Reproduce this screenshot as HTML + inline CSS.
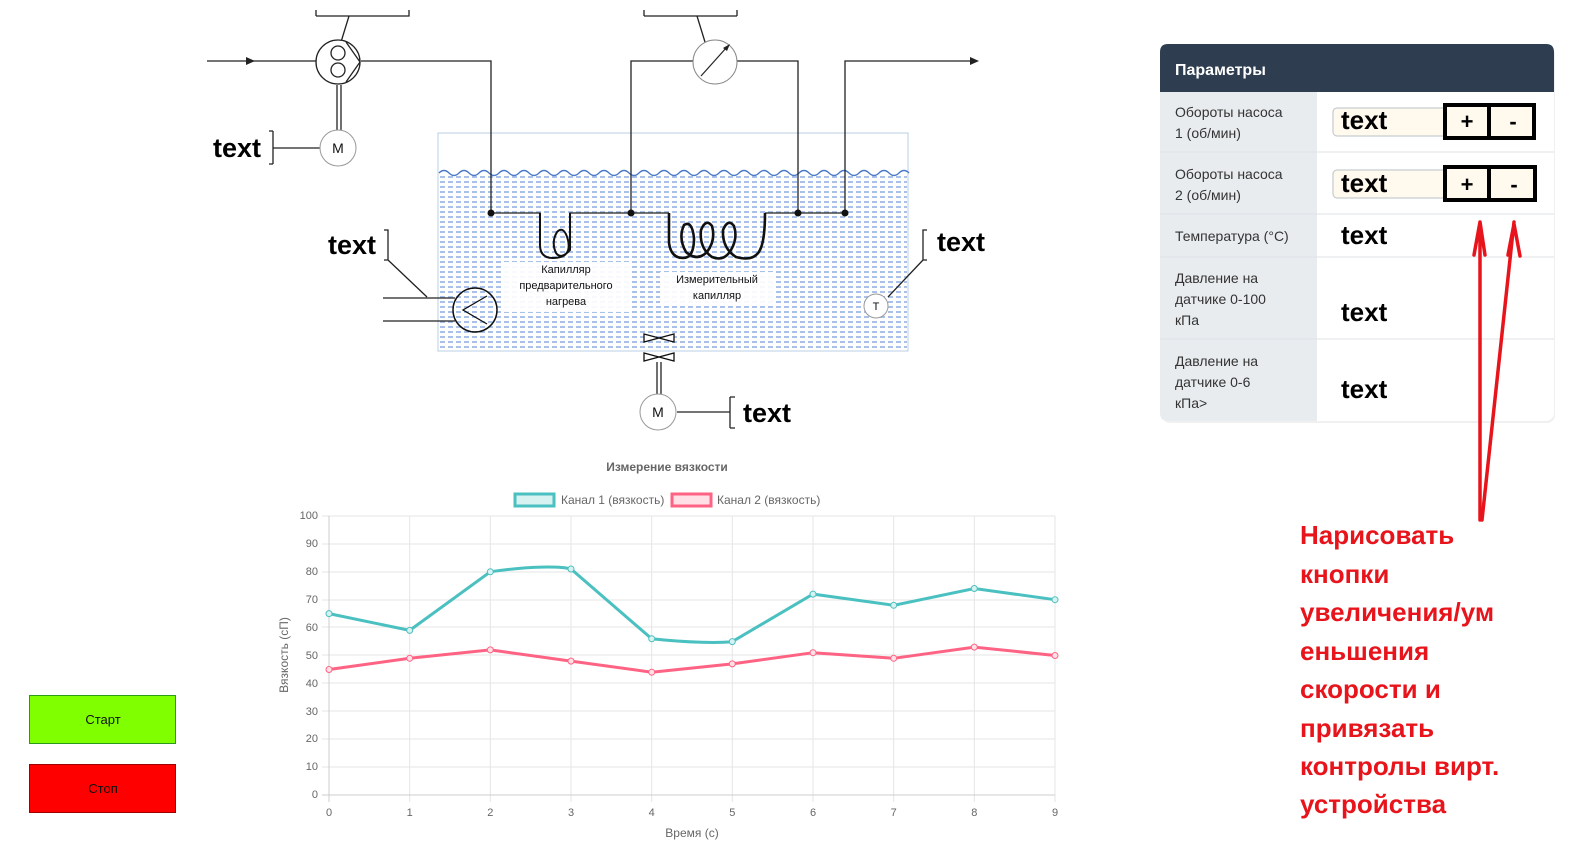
<!DOCTYPE html>
<html><head><meta charset="utf-8"><style>
body{margin:0;width:1591px;height:853px;overflow:hidden;background:#fff;font-family:"Liberation Sans","DejaVu Sans",sans-serif}
svg{position:absolute;left:0;top:0}
</style></head><body>
<svg width="1591" height="853" viewBox="0 0 1591 853" xmlns="http://www.w3.org/2000/svg" font-family="Liberation Sans, DejaVu Sans, sans-serif">
<defs>
<pattern id="w" width="8" height="5" patternUnits="userSpaceOnUse"><rect width="8" height="5" fill="#fff"/><rect x="0" y="1" width="5" height="2" fill="#a9c0e8"/></pattern>
</defs>
<!-- tank -->
<rect x="438" y="133" width="470" height="218" fill="#fff" stroke="#b9cfe6"/>
<rect x="439" y="173" width="468" height="177" fill="url(#w)"/>
<path d="M439 173 q5 -5 10 0 t10 0 t10 0 t10 0 t10 0 t10 0 t10 0 t10 0 t10 0 t10 0 t10 0 t10 0 t10 0 t10 0 t10 0 t10 0 t10 0 t10 0 t10 0 t10 0 t10 0 t10 0 t10 0 t10 0 t10 0 t10 0 t10 0 t10 0 t10 0 t10 0 t10 0 t10 0 t10 0 t10 0 t10 0 t10 0 t10 0 t10 0 t10 0 t10 0 t10 0 t10 0 t10 0 t10 0 t10 0 t10 0 t10 0" fill="none" stroke="#4a78c8" stroke-width="1.3"/>
<rect x="503" y="262" width="127" height="50" fill="#fff" opacity="0.9"/>
<rect x="660" y="272" width="113" height="34" fill="#fff" opacity="0.9"/>
<text font-size="11" text-anchor="middle" fill="#111"><tspan x="566" y="273">Капилляр</tspan><tspan x="566" y="289">предварительного</tspan><tspan x="566" y="305">нагрева</tspan><tspan x="717" y="283">Измерительный</tspan><tspan x="717" y="299">капилляр</tspan></text>
<!-- pipes -->
<g fill="none" stroke="#222" stroke-width="1.3">
<path d="M207 61 H316 M361 61 H491 V213 H540 V245 M570 245 V213 H631 V61 H693 M737 61 H798 V213 H845 V61 H975"/>
<path d="M631 213 H669"/><path d="M765 213 H798"/>
<path d="M316 16 V14 M316 16 H409 V10 M316 16 V10 M349 16 L341 42 M644 16 H737 M644 16 V10 M737 16 V10 M697 16 L705 42"/>
<path d="M337 85 V130 M341 85 V130"/>
<path d="M273 148 H320 M273 131 V164 M269 131 H273 M269 164 H273"/>
<path d="M657 362 V395 M661 362 V395"/>
<path d="M677 412 H730 M730 397 V428 M730 397 H735 M730 428 H735"/>
<path d="M383 298 H455 M383 321 H455 M384 230 H388 V260 H384 M388 260 L427 297"/>
<path d="M927 230 H923 V260 H927 M923 260 L888 297"/>
</g>
<polygon points="246,57 255,61 246,65" fill="#222"/>
<polygon points="970,57 979,61 970,65" fill="#222"/>
<g fill="#111"><circle cx="491" cy="213" r="3.5"/><circle cx="631" cy="213" r="3.5"/><circle cx="798" cy="213" r="3.5"/><circle cx="845" cy="213" r="3.5"/></g>
<!-- coils -->
<path d="M540 213 V245 Q540 258 553 258 Q572 258 568 240 Q564 225 557 232 Q551 242 556 253 Q561 260 570 250 V213" fill="none" stroke="#111" stroke-width="2"/>
<path d="M669 213 V243 Q671 258 683 258 Q694 258 694 238 Q692 220 684 225 Q678 238 686 252 Q697 262 707 252 Q716 240 712 226 Q706 218 701 230 Q699 248 712 257 Q724 262 731 250 Q738 238 734 226 Q728 218 723 230 Q722 248 736 257 Q754 262 760 250 Q765 240 765 213" fill="none" stroke="#111" stroke-width="2.6"/>
<!-- pump -->
<circle cx="338" cy="62" r="22" fill="#fff" stroke="#222" stroke-width="1.3"/>
<circle cx="338" cy="53" r="7" fill="none" stroke="#222" stroke-width="1.3"/><circle cx="338" cy="70" r="7" fill="none" stroke="#222" stroke-width="1.3"/>
<path d="M346 42 L360 62 L346 82" fill="none" stroke="#222" stroke-width="1.3"/>
<!-- gauge -->
<circle cx="715" cy="62" r="22" fill="#fff" stroke="#888" stroke-width="1"/>
<path d="M701 76 L727 47" stroke="#222" stroke-width="1.2"/><polygon points="730,44 723,48 727,51" fill="#222"/>
<!-- motors -->
<g fill="#fff" stroke="#999"><circle cx="338" cy="148" r="18"/><circle cx="658" cy="412" r="18"/><circle cx="876" cy="306" r="12"/></g>
<g font-size="14" text-anchor="middle" fill="#111"><text x="338" y="153">M</text><text x="658" y="417">M</text><text x="876" y="310" font-size="11">T</text></g>
<!-- heater -->
<circle cx="475" cy="310" r="22" fill="none" stroke="#111" stroke-width="1.5"/>
<path d="M487 296 L463 310 L487 324" fill="none" stroke="#111" stroke-width="1.3"/>
<!-- valve -->
<path d="M644 334 L674 342 L674 334 L644 342 Z M644 353 L674 361 L674 353 L644 361 Z" fill="#fff" stroke="#111" stroke-width="1.3"/>
<g font-size="27" font-weight="bold" fill="#000"><text x="213" y="157">text</text><text x="328" y="254">text</text><text x="937" y="251">text</text><text x="743" y="422">text</text></g>

<!-- chart -->
<text x="667" y="471" font-size="12" font-weight="bold" fill="#666" text-anchor="middle">Измерение вязкости</text>
<rect x="515" y="494" width="39" height="12" fill="#d8f1f1" stroke="#4bc0c0" stroke-width="3"/>
<text x="561" y="504" font-size="12" fill="#666">Канал 1 (вязкость)</text>
<rect x="672" y="494" width="39" height="12" fill="#ffe0e6" stroke="#ff6384" stroke-width="3"/>
<text x="717" y="504" font-size="12" fill="#666">Канал 2 (вязкость)</text>
<g stroke="#e5e5e5" stroke-width="1">
<path d="M322 516H1055M322 544H1055M322 572H1055M322 600H1055M322 627H1055M322 655H1055M322 683H1055M322 711H1055M322 739H1055M322 767H1055"/>
<path d="M409.7 516V802M490.3 516V802M571 516V802M651.7 516V802M732.3 516V802M813 516V802M893.7 516V802M974.3 516V802M1055 516V802"/>
</g>
<path d="M329 516V802M322 795H1055" stroke="#ccc"/>
<g font-size="11" fill="#666" text-anchor="end"><text x="318" y="519">100</text><text x="318" y="547">90</text><text x="318" y="575">80</text><text x="318" y="603">70</text><text x="318" y="631">60</text><text x="318" y="659">50</text><text x="318" y="687">40</text><text x="318" y="715">30</text><text x="318" y="742">20</text><text x="318" y="770">10</text><text x="318" y="798">0</text></g>
<g font-size="11" fill="#666" text-anchor="middle"><text x="329" y="816">0</text><text x="409.7" y="816">1</text><text x="490.3" y="816">2</text><text x="571" y="816">3</text><text x="651.7" y="816">4</text><text x="732.3" y="816">5</text><text x="813" y="816">6</text><text x="893.7" y="816">7</text><text x="974.3" y="816">8</text><text x="1055" y="816">9</text>
<text x="692" y="837" font-size="12">Время (с)</text>
<text x="0" y="0" font-size="12" transform="translate(288 655) rotate(-90)">Вязкость (сП)</text></g>
<path d="M329 613.6 L409.7 630.4 L490.3 571.8 C530 566 560 566 571 569 L651.7 638.8 C690 643 720 643 732.3 641.6 L813 594.1 L893.7 605.3 L974.3 588.5 L1055 599.7" fill="none" stroke="#4bc0c0" stroke-width="3"/>
<path d="M329 669.5 L409.7 658.3 L490.3 649.9 L571 661.1 L651.7 672.2 L732.3 663.9 L813 652.7 L893.7 658.3 L974.3 647.1 L1055 655.5" fill="none" stroke="#ff6384" stroke-width="3"/>
<g fill="#d8f1f1" stroke="#4bc0c0"><circle cx="329" cy="613.6" r="3"/><circle cx="409.7" cy="630.4" r="3"/><circle cx="490.3" cy="571.8" r="3"/><circle cx="571" cy="569" r="3"/><circle cx="651.7" cy="638.8" r="3"/><circle cx="732.3" cy="641.6" r="3"/><circle cx="813" cy="594.1" r="3"/><circle cx="893.7" cy="605.3" r="3"/><circle cx="974.3" cy="588.5" r="3"/><circle cx="1055" cy="599.7" r="3"/></g>
<g fill="#ffe0e6" stroke="#ff6384"><circle cx="329" cy="669.5" r="3"/><circle cx="409.7" cy="658.3" r="3"/><circle cx="490.3" cy="649.9" r="3"/><circle cx="571" cy="661.1" r="3"/><circle cx="651.7" cy="672.2" r="3"/><circle cx="732.3" cy="663.9" r="3"/><circle cx="813" cy="652.7" r="3"/><circle cx="893.7" cy="658.3" r="3"/><circle cx="974.3" cy="647.1" r="3"/><circle cx="1055" cy="655.5" r="3"/></g>

<!-- buttons -->
<rect x="29.5" y="695.5" width="146" height="48" fill="#80ff00" stroke="#2a9a1a"/>
<text x="103" y="724" font-size="13" text-anchor="middle" fill="#111">Старт</text>
<rect x="29.5" y="764.5" width="146" height="48" fill="#ff0000" stroke="#a00000"/>
<text x="103" y="793" font-size="13" text-anchor="middle" fill="#111">Стоп</text>

<!-- panel -->
<rect x="1162" y="47" width="393" height="376" rx="8" fill="#000" opacity="0.06"/>
<rect x="1160" y="44" width="394" height="377" rx="8" fill="#fff"/>
<path d="M1160 92 V52 Q1160 44 1168 44 H1546 Q1554 44 1554 52 V92 Z" fill="#2e3e50"/>
<text x="1175" y="75" font-size="16" font-weight="bold" fill="#fff">Параметры</text>
<path d="M1160 92 H1317 V421 H1168 Q1160 421 1160 413 Z" fill="#e9ecef"/>
<path d="M1160 152H1554M1160 214H1554M1160 257H1554M1160 339H1554" stroke="#dde1e4"/>
<g font-size="14" fill="#333"><text x="1175" y="117">Обороты насоса</text><text x="1175" y="138">1 (об/мин)</text><text x="1175" y="179">Обороты насоса</text><text x="1175" y="200">2 (об/мин)</text><text x="1175" y="241">Температура (°C)</text><text x="1175" y="283">Давление на</text><text x="1175" y="304">датчике 0-100</text><text x="1175" y="325">кПа</text><text x="1175" y="366">Давление на</text><text x="1175" y="387">датчике 0-6</text><text x="1175" y="408">кПа&gt;</text></g>
<rect x="1333" y="108" width="200" height="28" rx="4" fill="#fff9ee" stroke="#b8c2c8"/>
<rect x="1333" y="170" width="200" height="28" rx="4" fill="#fff9ee" stroke="#b8c2c8"/>
<g fill="#fff9ee" stroke="#000" stroke-width="4"><rect x="1445" y="105" width="44" height="33"/><rect x="1489" y="105" width="45" height="33"/><rect x="1445" y="167" width="44" height="33"/><rect x="1489" y="167" width="46" height="33"/></g>
<g font-size="22" font-weight="bold" text-anchor="middle" fill="#000"><text x="1467" y="129">+</text><text x="1513" y="129">-</text><text x="1467" y="192">+</text><text x="1514" y="192">-</text></g>
<g font-size="26" font-weight="bold" fill="#000"><text x="1341" y="129">text</text><text x="1341" y="192">text</text><text x="1341" y="244">text</text><text x="1341" y="321">text</text><text x="1341" y="398">text</text></g>
<!-- red arrows -->
<g stroke="#e8141c" stroke-width="3.5" fill="none" stroke-linecap="round"><path d="M1480 520 L1480 222 M1474 255 L1480 222 L1485 255"/><path d="M1482 520 L1514 222 M1508 255 L1514 224 L1520 256"/></g>
<g font-size="26" font-weight="bold" fill="#e8141c"><text x="1300" y="544">Нарисовать</text><text x="1300" y="583">кнопки</text><text x="1300" y="621">увеличения/ум</text><text x="1300" y="660">еньшения</text><text x="1300" y="698">скорости и</text><text x="1300" y="737">привязать</text><text x="1300" y="775">контролы вирт.</text><text x="1300" y="813">устройства</text></g>
</svg>
</body></html>
